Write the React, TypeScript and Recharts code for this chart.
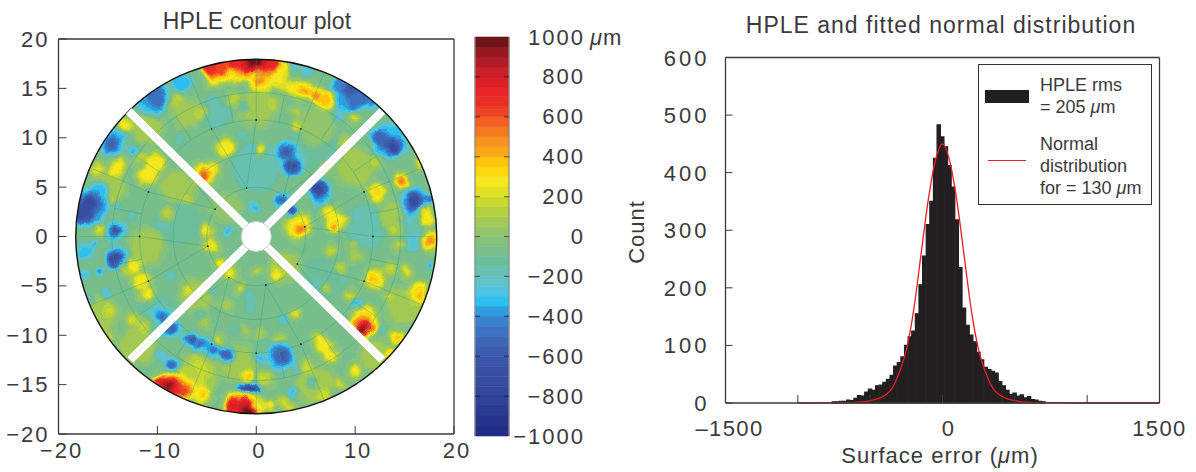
import React from 'react';
import {
  ScatterChart, Scatter, XAxis, YAxis,
  BarChart, Bar, ComposedChart, Line, Legend,
} from 'recharts';

const FONT = '"Liberation Sans", sans-serif';
const INK = '#3a3a3c';

// contour plot: every peak is [x, y, level in um, spread]
const diskBase = [[0, 0, -50, 19.5]];
const broadPatches = [
  [0, 7, -160, 2.6], [-8, 1.5, -130, 2.4], [-10, -8, -140, 2.2], [2, -8, -60, 3], [6, 9, -140, 2.2],
  [-4, 12.5, -150, 1.8], [11, 1, -170, 2.2], [15.5, 0, -170, 1.6], [-2, -12.8, 60, 1.8], [7, -4, -120, 2.4],
  [-16, -8, 90, 1.9], [-12, -11, 90, 1.8], [-6, -14, 90, 2.2], [6, -15, 90, 1.9], [12, -12, 90, 1.5],
  [15, -7, 100, 1.8], [-15, 5, 90, 1.7], [-11, 11, 90, 1.6], [-7, 12.5, 60, 1.5], [0, 13, 70, 1.8],
  [6, 11, 50, 1.8], [10, 7, 80, 1.9], [14, 2, 60, 1.6], [-11, -1, 70, 1.8], [-8, 5, 70, 1.7],
  [-6, -6, 60, 1.7], [3, -3, 70, 1.5], [-3, 3, 30, 1.4],
];
const mottling = [
  [-2.3, 13.8, 150, 0.7], [1.8, 13.5, 150, 0.7], [-8.3, 13.8, 150, 0.7], [-5.7, 12.5, 150, 0.6], [-11.7, 8.1, 150, 0.7],
  [-14.7, 3.7, 140, 0.6], [-9, 2.4, 150, 0.7], [-7, 3.7, 140, 0.6], [-5.3, -8.6, 150, 0.5], [-12.4, -8.3, 170, 0.7],
  [-11.4, -9.1, 170, 0.6], [-14.7, -7.6, 170, 0.6], [-6, -13, 170, 0.8], [1, -14.3, 170, 0.7], [3.4, -17.3, 170, 0.6],
  [-5, -13.6, 160, 0.6], [-5.7, -14.4, 170, 0.6], [8.5, -3.2, 170, 0.6], [7.5, -1.5, 170, 0.6], [9.8, -0.8, 150, 0.5],
  [14.6, -0.8, 150, 0.6], [13.5, -3.2, 170, 0.6], [2.4, -10.3, 150, 0.6], [0.4, -9.9, 140, 0.5], [5.1, -13.3, 170, 0.7],
  [6.8, -16, 180, 0.7], [2.8, -16.7, 170, 0.6], [1.4, -14.5, 150, 0.5], [12, -15, 150, 0.4], [-1, -9.5, 130, 0.5],
  [-13, -3.5, 150, 0.6], [-15, -10.3, 170, 0.5], [-3, -7, 130, 0.5], [12, 7.5, 140, 0.6], [9, 9.5, 140, 0.6],
  [7, 7, 130, 0.5], [4, 12.5, 150, 0.5], [9, 1.5, 130, 0.5], [14, 0.5, 150, 0.5], [10, -2, 130, 0.5],
];
const tealSpots = [
  [-1.3, 13.2, -200, 0.5], [-4.4, 13.8, -190, 0.5], [3.8, 10.5, -200, 0.5], [-1.3, 10.1, -210, 0.5], [-7.7, 9.8, -200, 0.5],
  [-14, 3, -210, 0.5], [-9.5, 1, -200, 0.5], [-0.6, -6.2, -200, 0.7], [0.7, -10.6, -210, 0.4], [8.8, -4.4, -210, 0.5],
  [6.1, -5, -210, 0.5], [-8.7, -3.9, -210, 0.6], [-4.3, -5.6, -200, 0.5], [-0.6, -7.2, -200, 0.6], [-2.3, -9.6, -190, 0.5],
  [-5.7, -7.9, -190, 0.5], [10, 2, -210, 0.5], [12, -1, -200, 0.5], [15.3, 1.5, -220, 0.6], [12, 1.5, -210, 0.5],
  [-12.5, 2, -200, 0.6], [-17, -6.5, -210, 0.6], [4, -13.5, -220, 0.5], [6, 3, -190, 0.4], [8, 8, -190, 0.5],
];
const cyanHalos = [
  [-7.5, 15.5, -350, 1], [-10.5, 14, -360, 1.8], [-14.5, 9.5, -340, 1.3], [-12.4, 8.8, -340, 0.6],
  [-17, 3, -380, 2], [-15.8, 4.7, -350, 0.9], [-14.2, 0.6, -310, 1.2], [3, 8.6, -350, 1.2], [3.7, 7.1, -350, 1.2],
  [-0.3, 3, -340, 0.6], [2.6, 3.7, -340, 0.9], [-2.8, 0.5, -340, 0.6], [3.4, 17.4, -350, 0.8], [5.1, 17, -300, 0.7],
  [9.5, 14.7, -360, 2.2], [13.5, 9.7, -350, 1.8], [6.4, 4.6, -370, 1.3], [16, 3.5, -350, 1.5], [8.3, 12.2, -340, 0.4],
  [-14.2, -2.2, -350, 1.2], [-17.4, -1.5, -310, 1], [-17.3, -3.9, -350, 0.5], [-15.1, -5.7, -350, 0.45],
  [-10, -7.6, -350, 0.7], [-9.4, -8.2, -360, 0.9], [-8.5, -9.4, -360, 0.9], [-6.7, -10.3, -350, 0.8],
  [-5.7, -10.9, -350, 0.9], [-4.3, -11.4, -350, 0.9], [-3, -12, -350, 0.8], [-8.5, -13, -350, 0.8],
  [-9.7, -12.2, -340, 0.45], [-0.8, -15.5, -350, 1.2], [2.5, -12.1, -350, 1.5], [0.4, -12.2, -370, 0.5],
  [3.6, -15.8, -350, 0.5], [5.6, -14.8, -350, 0.4], [12.7, -9.4, -350, 0.35], [10.2, -6.9, -340, 0.55],
  [2.8, -8.4, -300, 0.55], [15.9, -0.7, -260, 0.7], [17.6, -2.9, -400, 0.45], [-0.6, 9, -300, 0.35],
];
const bluePeaks = [
  [-10.2, 13.8, -700, 0.7], [-10.1, 14, -470, 1.1], [-14.6, 9.5, -560, 0.65], [-16.8, 3.4, -720, 0.9], [-17.6, 2.4, -660, 1],
  [-14.2, 0.5, -660, 0.6], [3, 8.6, -600, 0.6], [3.7, 7.1, -660, 0.7], [2.6, 3.7, -480, 0.55], [3.4, 2.7, -680, 0.5],
  [8.3, 15.4, -420, 0.7], [9.5, 14.8, -620, 0.7], [10.8, 14, -510, 0.7], [9.8, 13.8, -460, 0.8], [11.7, 13.2, -450, 0.5],
  [12.2, 10.3, -550, 0.6], [13.9, 9.1, -760, 0.7], [12.9, 9.6, -550, 0.6], [14.6, 9.5, -460, 0.5], [6.3, 4.9, -760, 0.7],
  [15.9, 3.6, -710, 0.75], [17.6, 3.9, -500, 0.5], [-14.2, -2.2, -710, 0.7], [-15.9, -3.5, -520, 0.45], [-16.3, -0.7, -460, 0.35],
  [-9.4, -8.2, -510, 0.45], [-8.5, -9.4, -560, 0.5], [-6.7, -10.3, -660, 0.45], [-5.7, -10.9, -510, 0.45], [-4.3, -11.4, -510, 0.45],
  [-3, -12, -610, 0.45], [-8.5, -13, -560, 0.45], [-0.8, -15.5, -760, 0.55], [-1.6, -15.3, -560, 0.45], [-0.3, -15.5, -710, 0.5],
  [2.8, -12.1, -820, 0.55], [2.6, -12.1, -560, 0.75],
];
const yellowPatches = [
  [-2.2, 16.9, 300, 1.3], [0, 17, 300, 1.4], [2.2, 16.9, 300, 1.2], [-4, 16.6, 300, 1.4], [0.5, 15.6, 290, 1.2], [2.4, 16, 260, 0.9], [4.1, 15, 290, 0.7], [4.1, 11.1, 260, 0.45],
  [-14.2, 6.8, 290, 0.8], [-13.7, 7.4, 260, 0.6], [-16.1, 6.9, 260, 0.6], [-13.2, 11.3, 290, 0.7], [-11, 6.1, 290, 1], [-10.2, 7.4, 300, 1],
  [-15.9, 0.7, 260, 0.5], [-5.2, 6.2, 300, 1.1], [-4.3, 6.9, 260, 0.7], [-3, 9, 290, 0.9], [0.5, 8.8, 290, 0.6], [4.2, 1, 290, 1.3],
  [3.8, 1.7, 260, 0.8], [-5, 0.7, 290, 0.6], [-4.6, -0.8, 260, 0.7], [3.3, 15.1, 290, 0.55], [4.8, 14.8, 290, 0.9], [6, 14.3, 290, 0.9],
  [7.1, 13.8, 290, 0.9], [9.8, 12, 240, 0.5], [7.9, 1.5, 290, 1], [7.5, 2.4, 280, 0.8], [12.2, 4.5, 310, 0.9], [14.7, 5.6, 290, 0.8],
  [17.2, 2, 280, 0.9], [17.6, -0.5, 290, 1], [-12.2, -2.9, 310, 0.65], [-11.7, -4.5, 290, 0.8], [-11, -5.9, 290, 0.7],
  [-3.8, -10.5, 280, 0.45], [-8, -15.3, 300, 1.7], [-5.5, -16, 290, 1], [-2, -17.1, 290, 1.3], [-0.4, -17.2, 290, 1.2], [-1, -14.3, 290, 0.7],
  [-2.6, -3.7, 290, 0.6], [0.1, -3.5, 290, 0.35], [2.1, -3.9, 290, 0.7], [-1.6, -5.2, 240, 0.45], [-7, -5.5, 270, 0.45],
  [3.9, -7.9, 290, 0.5], [1.4, -17.2, 280, 0.6], [12, -4.3, 310, 1], [16.4, -5.6, 310, 1], [11, -8.5, 310, 1.3],
  [14.2, -10.2, 290, 0.7], [6.8, -11.1, 290, 0.8], [7.5, -12.1, 310, 0.7], [6.3, -10.3, 290, 0.55], [10, -13.6, 290, 0.7],
  [8.5, -15, 240, 0.45], [7.1, -5.2, 260, 0.35], [9.5, -5.9, 240, 0.45], [13.4, -5.9, 260, 0.35], [15.2, -3.5, 290, 0.45],
];
const redPeaks = [
  [-1.5, 17.3, 520, 1.1], [1, 17.3, 520, 1.1], [-2, 17.6, 740, 0.8], [-0.8, 17.6, 820, 0.9], [0.5, 17.7, 820, 0.9], [1.8, 17.5, 740, 0.7], [-0.3, 18, 1000, 0.9],
  [-4.5, 17.1, 710, 0.9], [-3.6, 17.2, 650, 0.8], [0.4, 15.7, 520, 0.5],
  [4.8, 14.8, 440, 0.6], [6, 14.3, 510, 0.5], [7.1, 13.8, 410, 0.5], [-5.2, 6.3, 620, 0.55], [4.5, 0.7, 560, 0.55],
  [8, 0.9, 560, 0.4], [14.7, 5.6, 590, 0.45], [16.6, 7.4, 360, 0.45], [17.6, -0.5, 510, 0.5], [-8.4, -15.2, 510, 1.2],
  [-9.2, -14.9, 820, 0.7], [-8.6, -15.3, 1000, 0.7], [-9.8, -14.6, 780, 0.55], [-8, -15.5, 780, 0.65], [-7.2, -15.6, 650, 0.6], [-5, -16, 410, 0.45],
  [-1.6, -17.2, 520, 1.2], [-2.5, -17.2, 760, 0.8], [-1.2, -17.2, 810, 0.9], [-0.7, -17.8, 1000, 0.7], [-0.6, -14.4, 510, 0.35],
  [-3.8, -2.7, 510, 0.35], [11.5, -4, 410, 0.45], [16.9, -6.2, 460, 0.45], [10.8, -9, 510, 0.95], [11.2, -9.1, 810, 0.6],
  [10.2, -9.1, 560, 0.5], [10.8, -9.6, 980, 0.6], [14.4, -10.1, 510, 0.3], [13.5, -11.8, 440, 0.45],
];

const ringRadii = [5, 8.4, 11.8, 14.6];
const barEnds = [[-12.9, 12.7], [12.75, 12.7], [-12.75, -12.5], [12.75, -12.5]];
const outerSpokeAngles = [0, 22.5, 45, 67.5, 90, 112.5, 135, 157.5, 180, 202.5, 225, 247.5, 270, 292.5, 315, 337.5];
const innerDotAngles = [-11.25, 33.75, 78.75, 123.75, 168.75, 213.75, 258.75, 303.75];
const plotTicksBig = [-20, -10, 0, 10, 20];
const plotTicksY = [-20, -15, -10, -5, 0, 5, 10, 15, 20];

// colour bar
const colorLevels = [
  -1000, -950, -900, -850, -800, -750, -700, -650, -600, -550, -500, -450, -400, -350, -300, -250, -200, -150, -100, -50,
  0, 50, 100, 150, 200, 250, 300, 350, 400, 450, 500, 550, 600, 650, 700, 750, 800, 850, 900, 950,
];
const colorBands = [
  '#232d85', '#27338b', '#2b3a92', '#2f4297', '#33479b', '#354c9f', '#374fa2', '#3a56a8', '#3b5dae', '#3c67b6',
  '#3c72bf', '#3a82cc', '#2f9ee0', '#2bc0ee', '#4fc4e0', '#63c2c8', '#68c0b0', '#6cbf9b', '#78bf8b', '#86c27c',
  '#93c66b', '#a2ca55', '#b5d13f', '#cbd92f', '#e2e024', '#f4e71c', '#fbd80f', '#fdc40a', '#f9a81a', '#f6921e',
  '#f47a20', '#f16022', '#ee4324', '#ec2f26', '#ea2527', '#dc2027', '#c91f26', '#b01c23', '#941a20', '#6f151a',
];
const colorTicks = [-1000, -800, -600, -400, -200, 0, 200, 400, 600, 800, 1000];

// histogram
const histX = [
  -750, -725, -700, -675, -650, -625, -600, -575, -550, -525, -500, -475, -450, -425, -400, -375, -350, -325, -300, -275,
  -250, -225, -200, -175, -150, -125, -100, -75, -50, -25, 0, 25, 50, 75, 100, 125, 150, 175, 200, 225,
  250, 275, 300, 325, 350, 375, 400, 425, 450, 475, 500, 525, 550, 575, 600, 625, 650, 675, 700,
];
const histCount = [
  2, 2, 3, 3, 5, 4, 8, 13, 12, 19, 24, 22, 30, 31, 36, 41, 48, 64, 70, 80,
  100, 115, 125, 155, 205, 255, 310, 350, 425, 483, 462, 445, 412, 375, 318, 235, 165, 135, 118, 106,
  88, 75, 62, 58, 55, 52, 37, 30, 22, 15, 17, 12, 14, 9, 11, 6, 5, 3, 2,
];
const normalX = [-1000, -700, -600, -550, -500, -450, -400, -350, -300, -250, -200, -150, -100, -50, 0, 50, 100, 150, 200, 250, 300, 350, 400, 450, 500, 550, 600, 700, 1000, 1500];
const normalCount = [0, 0.5, 1, 2, 4, 7, 13, 25, 52, 92, 160, 255, 350, 420, 450, 420, 350, 255, 160, 92, 52, 25, 13, 7, 4, 2, 1, 0.5, 0, 0];
const errorTicks = [-1500, -1000, -500, 0, 500, 1000, 1500];
const countTicks = [0, 100, 200, 300, 400, 500, 600];

const hexChannel = (hex: string, start: number) => (parseInt(hex.slice(start, start + 2), 16) / 255).toFixed(3);
const tableFor = (start: number) => colorBands.map((c) => hexChannel(c, start)).join(' ');

const greyFor = (level: number) => {
  const g = Math.round(((level + 1000) / 2000) * 254);
  return `rgb(${g},${g},${g})`;
};

const PX_X = 9.89;
const PX_Y = 9.875;
const DISK_X = 18.25;
const DISK_Y = 17.95;

const surfacePoints = [...diskBase, ...broadPatches, ...mottling, ...tealSpots, ...cyanHalos, ...yellowPatches, ...bluePeaks, ...redPeaks]
  .map(([x, y, level, spread]) => ({ x, y, level, spread }));
const rings = ringRadii.map((r) => ({ x: 0, y: 0, r }));
const polar = (r: number, deg: number) => ({
  x: r * Math.sin((deg * Math.PI) / 180),
  y: r * Math.cos((deg * Math.PI) / 180),
});
const gridDots = [
  ...outerSpokeAngles.map((a) => polar(11.8, a)),
  ...innerDotAngles.map((a) => polar(5, a)),
];
const gridSegments = [
  ...outerSpokeAngles.map((a) => [polar(11.8, a), polar(17.9, a)]),
  ...outerSpokeAngles.map((a) => [polar(11.8, a + 11.25), polar(14.6, a + 11.25)]),
  ...innerDotAngles.flatMap((a) => [[polar(5, a), polar(11.8, a - 11.25)], [polar(5, a), polar(11.8, a + 11.25)]]),
];

const histTable = Array.from(new Set([...histX, ...normalX]))
  .sort((a, b) => a - b)
  .map((x) => ({
    x,
    count: histX.includes(x) ? histCount[histX.indexOf(x)] : null,
    normal: normalX.includes(x) ? normalCount[normalX.indexOf(x)] : null,
  }));

const colorRow = [Object.fromEntries(colorLevels.map((l) => [`b${l}`, l < 0 ? -50 : 50]))];
const barOrder = [...colorLevels.filter((l) => l >= 0), ...colorLevels.filter((l) => l < 0).reverse()];

const label = (v: number) => (v < 0 ? `\u2212${-v}` : `${v}`);
const textStyle = { fontFamily: FONT, fontSize: 22, fill: INK, letterSpacing: 1 };
const tickStyle = { ...textStyle, letterSpacing: 2 };

const Um = () => <tspan fontStyle="italic">{'\u03bc'}</tspan>;

const LeftXTick = (p: any) => (
  <g>
    <line x1={p.x} x2={p.x} y1={p.y} y2={p.y - 8} stroke={INK} strokeWidth={1} />
    <text x={p.x + 3} y={p.y + 24} textAnchor="middle" style={tickStyle}>{label(p.payload.value)}</text>
  </g>
);
const LeftYTick = (p: any) => (
  <g>
    <line x1={p.x} x2={p.x + 8} y1={p.y} y2={p.y} stroke={INK} strokeWidth={1} />
    <text x={p.x - 9} y={p.y + 7.5} textAnchor="end" style={tickStyle}>{label(p.payload.value)}</text>
  </g>
);
const TopTick = (p: any) => <line x1={p.x} x2={p.x} y1={p.y} y2={p.y + 8} stroke={INK} strokeWidth={1} />;
const RightTick = (p: any) => <line x1={p.x} x2={p.x - 7} y1={p.y} y2={p.y} stroke={INK} strokeWidth={1} />;

const NoDot = () => null;
const BlobShape = (p: any) => <circle cx={p.cx} cy={p.cy} r={p.payload.spread * PX_X} fill={greyFor(p.payload.level)} />;
const ClipShape = (p: any) => (
  <clipPath id="diskClip">
    <ellipse cx={p.cx} cy={p.cy} rx={DISK_X * PX_X} ry={DISK_Y * PX_Y} />
  </clipPath>
);
const OutlineShape = (p: any) => (
  <ellipse cx={p.cx} cy={p.cy} rx={DISK_X * PX_X} ry={DISK_Y * PX_Y} fill="none" stroke="#111" strokeWidth={1.4} />
);
const RingShape = (p: any) => (
  <ellipse cx={p.cx} cy={p.cy} rx={p.payload.r * PX_X} ry={p.payload.r * PX_Y} fill="none" stroke="#2c9c86" strokeOpacity={0.55} strokeWidth={0.7} />
);
const DotShape = (p: any) => <circle cx={p.cx} cy={p.cy} r={0.9} fill="#222" />;
const HoleShape = (p: any) => <circle cx={p.cx} cy={p.cy} r={15} fill="#fff" stroke="#cfcfcf" strokeWidth={1} />;

const ContourPlot = () => (
  <ScatterChart width={470} height={472} margin={{ left: 57.5, right: 15, top: 38, bottom: 37 }}>
    <Scatter data={[{ x: 0, y: 0 }]} shape={ClipShape} isAnimationActive={false} />
    <Scatter className="contour-surface" data={surfacePoints} shape={BlobShape} isAnimationActive={false} />
    <Scatter data={rings} shape={RingShape} isAnimationActive={false} />
    {gridSegments.map((s, i) => (
      <Scatter key={i} data={s} shape={NoDot} line={{ stroke: '#2c9c86', strokeOpacity: 0.55, strokeWidth: 0.7 }} isAnimationActive={false} />
    ))}
    <Scatter data={gridDots} shape={DotShape} isAnimationActive={false} />
    <Scatter data={[{ x: 0, y: 0 }]} shape={OutlineShape} isAnimationActive={false} />
    {barEnds.map(([x, y]) => (
      <Scatter key={`${x}${y}`} data={[{ x: 0, y: 0 }, { x, y }]} shape={NoDot} line={{ stroke: '#fff', strokeWidth: 8 }} isAnimationActive={false} />
    ))}
    {barEnds.map(([x, y]) => (
      <Scatter key={`e${x}${y}`} data={[{ x: 0, y: 0 }, { x, y }]} shape={NoDot} line={{ stroke: '#dcdcdc', strokeWidth: 0.6 }} isAnimationActive={false} />
    ))}
    <Scatter data={[{ x: 0, y: 0 }]} shape={HoleShape} isAnimationActive={false} />
    <XAxis type="number" dataKey="x" domain={[-20, 20]} ticks={plotTicksBig} tick={LeftXTick} tickLine={false} tickSize={0} tickMargin={0} height={1} interval={0} axisLine={{ stroke: INK, strokeWidth: 1.3 }} />
    <YAxis type="number" dataKey="y" domain={[-20, 20]} ticks={plotTicksY} tick={LeftYTick} tickLine={false} tickSize={0} tickMargin={0} width={1} interval={0} axisLine={{ stroke: INK, strokeWidth: 1.3 }} />
    <XAxis xAxisId="top" orientation="top" type="number" domain={[-20, 20]} ticks={plotTicksBig} tick={TopTick} tickLine={false} tickSize={0} tickMargin={0} height={1} interval={0} axisLine={{ stroke: INK, strokeWidth: 1.3 }} />
    <YAxis yAxisId="right" orientation="right" type="number" domain={[-20, 20]} ticks={plotTicksY} tick={RightTick} tickLine={false} tickSize={0} tickMargin={0} width={1} interval={0} axisLine={{ stroke: INK, strokeWidth: 1.3 }} />
  </ScatterChart>
);

const ColorTick = (p: any) => {
  const v = p.payload.value;
  const inner = v !== 1000 && v !== -1000;
  return (
    <g>
      {inner && <line x1={p.x - 34} x2={p.x - 29} y1={p.y} y2={p.y} stroke="#000" strokeOpacity={0.5} strokeWidth={1.2} />}
      {inner && <line x1={p.x - 5} x2={p.x} y1={p.y} y2={p.y} stroke="#000" strokeOpacity={0.5} strokeWidth={1.2} />}
      <text x={p.x + 76} y={p.y + 7.5} textAnchor="end" style={tickStyle}>{label(v)}</text>
      {v === 1000 && <text x={p.x + 81} y={p.y + 7.5} style={textStyle}><Um />m</text>}
    </g>
  );
};

const ColorBar = () => (
  <BarChart width={180} height={472} data={colorRow} stackOffset="sign" barCategoryGap={0} margin={{ left: 14, right: 130, top: 37, bottom: 36 }}>
    {barOrder.map((l) => (
      <Bar key={l} dataKey={`b${l}`} stackId="scale" fill={colorBands[colorLevels.indexOf(l)]} stroke={colorBands[colorLevels.indexOf(l)]} strokeWidth={0.6} isAnimationActive={false} />
    ))}
    <XAxis hide />
    <YAxis yAxisId="edge" orientation="left" type="number" domain={[-1000, 1000]} ticks={colorTicks} tick={false} tickLine={false} width={1} axisLine={{ stroke: '#8a8a8a', strokeWidth: 1.2 }} />
    <YAxis orientation="right" type="number" domain={[-1000, 1000]} ticks={colorTicks} tick={ColorTick} tickLine={false} tickSize={0} tickMargin={0} width={1} interval={0} axisLine={{ stroke: '#8a8a8a', strokeWidth: 1.2 }} />
  </BarChart>
);

const errorLabels: Record<number, [string, number]> = { [-1500]: ['\u20131500', 4], 0: ['0', 6], 1500: ['1500', 0] };

const ErrorTick = (p: any) => {
  const l = errorLabels[p.payload.value];
  return (
    <g>
      <line x1={p.x} x2={p.x} y1={p.y} y2={p.y - 8} stroke={INK} strokeWidth={1} />
      {l && <text x={p.x + l[1]} y={p.y + 33} textAnchor="middle" style={{ ...textStyle, letterSpacing: 1.4 }}>{l[0]}</text>}
    </g>
  );
};
const CountTick = (p: any) => (
  <g>
    <line x1={p.x} x2={p.x + 7} y1={p.y} y2={p.y} stroke={INK} strokeWidth={1} />
    <text x={p.x - 16} y={p.y + 8} textAnchor="end" style={{ ...textStyle, letterSpacing: 3 }}>{p.payload.value}</text>
  </g>
);

const LegendBox = () => (
  <div style={{ position: 'relative', width: 174, height: 141, border: '1px solid #333', background: '#fff', fontFamily: FONT, fontSize: 18, color: INK, lineHeight: '22px', boxSizing: 'border-box' }}>
    <div style={{ position: 'absolute', left: 6, top: 25, width: 44, height: 13, background: '#231f20' }} />
    <div style={{ position: 'absolute', left: 9, top: 95, width: 38, height: 1, background: '#ed1c24' }} />
    <div style={{ position: 'absolute', left: 61, top: 9, whiteSpace: 'nowrap' }}>HPLE rms<br />= 205 <i>{'\u03bc'}</i>m</div>
    <div style={{ position: 'absolute', left: 61, top: 68, whiteSpace: 'nowrap' }}>Normal<br />distribution<br />for = 130 <i>{'\u03bc'}</i>m</div>
  </div>
);

const ErrorLabel = () => (
  <text x={340} y={463} textAnchor="middle" style={textStyle}>Surface error (<Um />m)</text>
);
const CountLabel = () => (
  <text x={44} y={232} textAnchor="middle" transform="rotate(-90 44 232)" style={textStyle}>Count</text>
);

const Histogram = () => (
  <ComposedChart width={596} height={472} data={histTable} margin={{ left: 124.5, right: 35.5, top: 56.5, bottom: 68 }}>
    <Bar dataKey="count" fill="#231f20" stroke="#231f20" strokeWidth={1.2} barSize={4} isAnimationActive={false} />
    <Line dataKey="normal" type="monotone" connectNulls dot={false} stroke="#ed1c24" strokeWidth={1.3} isAnimationActive={false} />
    <XAxis type="number" dataKey="x" domain={[-1500, 1500]} ticks={errorTicks} tick={ErrorTick} tickLine={false} tickSize={0} tickMargin={0} height={1} interval={0} axisLine={{ stroke: INK, strokeWidth: 1.3 }} label={ErrorLabel} />
    <YAxis type="number" domain={[0, 600]} ticks={countTicks} tick={CountTick} tickLine={false} tickSize={0} tickMargin={0} width={1} interval={0} axisLine={{ stroke: INK, strokeWidth: 1.3 }} label={CountLabel} />
    <XAxis xAxisId="top" orientation="top" type="number" domain={[-1500, 1500]} ticks={errorTicks} tick={TopTick} tickLine={false} tickSize={0} tickMargin={0} height={1} interval={0} axisLine={{ stroke: INK, strokeWidth: 1.3 }} />
    <YAxis yAxisId="right" orientation="right" type="number" domain={[0, 600]} ticks={countTicks} tick={RightTick} tickLine={false} tickSize={0} tickMargin={0} width={1} interval={0} axisLine={{ stroke: INK, strokeWidth: 1.3 }} />
    <Legend layout="vertical" align="center" verticalAlign="middle" content={LegendBox} wrapperStyle={{ position: 'absolute', left: 378, top: 64, width: 174, height: 141, margin: 0 }} />
  </ComposedChart>
);

const titleStyle: React.CSSProperties = { position: 'absolute', fontFamily: FONT, color: INK, whiteSpace: 'nowrap', transform: 'translateX(-50%)', lineHeight: '26px' };

export default function App() {
  return (
    <div style={{ position: 'absolute', left: 0, top: 0, width: 1196, height: 472, overflow: 'hidden', background: '#fff' }}>
      <style>{'.contour-surface { filter: url(#contourLevels); clip-path: url(#diskClip); }'}</style>
      <svg width={0} height={0} style={{ position: 'absolute' }}>
        <defs>
          <filter id="contourLevels" colorInterpolationFilters="sRGB" x="-5%" y="-5%" width="110%" height="110%">
            <feGaussianBlur in="SourceGraphic" stdDeviation={2.6} result="soft" />
            <feTurbulence type="fractalNoise" baseFrequency={0.07} numOctaves={2} seed={4} result="wobble" />
            <feDisplacementMap in="soft" in2="wobble" scale={9} xChannelSelector="R" yChannelSelector="G" result="bent" />
            <feComponentTransfer in="bent">
              <feFuncR type="discrete" tableValues={tableFor(1)} />
              <feFuncG type="discrete" tableValues={tableFor(3)} />
              <feFuncB type="discrete" tableValues={tableFor(5)} />
            </feComponentTransfer>
          </filter>
        </defs>
      </svg>
      <div style={{ ...titleStyle, left: 257, top: 8, fontSize: 23, letterSpacing: 0.1 }}>HPLE contour plot</div>
      <div style={{ ...titleStyle, left: 941, top: 12, fontSize: 23, letterSpacing: 1 }}>HPLE and fitted normal distribution</div>
      <div style={{ position: 'absolute', left: 0, top: 0 }}><ContourPlot /></div>
      <div style={{ position: 'absolute', left: 460, top: 0 }}><ColorBar /></div>
      <div style={{ position: 'absolute', left: 600, top: 0 }}><Histogram /></div>
    </div>
  );
}
